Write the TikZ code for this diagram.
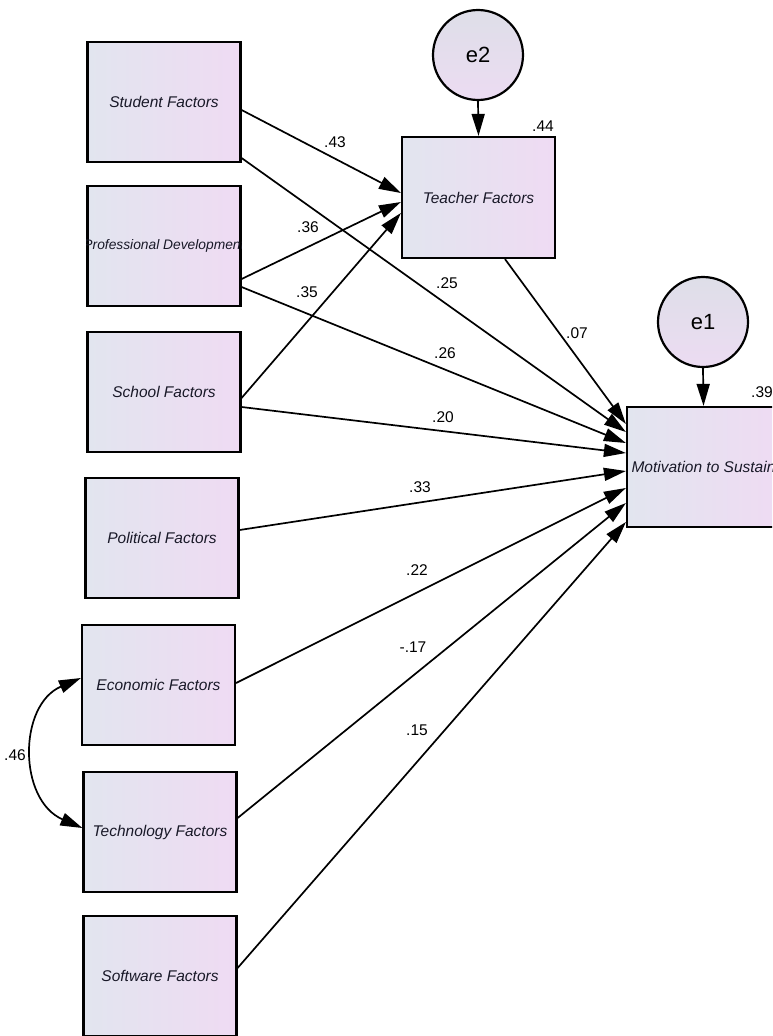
\documentclass[tikz,border=0pt]{standalone}
\usepackage{fontspec}
\setmainfont{Liberation Sans}
\usetikzlibrary{arrows.meta}
\definecolor{boxL}{RGB}{226,229,239}
\definecolor{boxR}{RGB}{239,219,243}
\definecolor{cirT}{RGB}{222,222,232}
\definecolor{cirB}{RGB}{236,220,242}
\definecolor{txt}{RGB}{25,25,40}
\tikzset{
  box/.style={draw=black, line width=2.2pt, left color=boxL, right color=boxR,
    minimum width=153pt, minimum height=120pt, inner sep=0pt, text=txt,
    font=\fontsize{15.5}{18}\selectfont\itshape},
  err/.style={circle, draw=black, line width=2.2pt, top color=cirT, bottom color=cirB,
    minimum size=90pt, inner sep=0pt, font=\fontsize{22}{26}\selectfont},
  path/.style={line width=1.7pt, -{Triangle[length=22pt,width=13pt]}},
  cov/.style={line width=1.7pt, {Triangle[length=22pt,width=13pt]}-{Triangle[length=22pt,width=13pt]}},
  lab/.style={font=\fontsize{15.5}{18}\selectfont, inner sep=0pt}
}
\begin{document}
\begin{tikzpicture}[x=1pt,y=-1pt]
\useasboundingbox (0,0) rectangle (772,1036);
\clip (0,0) rectangle (772,1036);
\fill[white] (0,0) rectangle (772,1036);
% exogenous boxes
\node[box] (stud) at (164,102) {Student Factors};
\node[box] (prof) at (164,246) {};
\begin{scope}
  \clip (prof.south west) rectangle (prof.north east);
  \node[lab, text=txt, font=\fontsize{13.8}{16}\selectfont\itshape] (proft) at (prof.center) {Professional Development};
\end{scope}
\node[box] (school) at (164,392) {School Factors};
\node[box] (pol) at (162,538) {Political Factors};
\node[box] (econ) at (158.5,685) {Economic Factors};
\node[box] (tech) at (160,832) {Technology Factors};
\node[box] (soft) at (160,976) {Software Factors};
% endogenous
\node[box, minimum height=121pt] (teach) at (478.5,197.5) {Teacher Factors};
\node[box] (mot) at (703.5,467) {Motivation to Sustain};
% errors
\node[err] (e2) at (478,55) {e2};
\node[err] (e1) at (703,322) {e1};
\draw[path] (e2.south) -- (teach.north);
\draw[path] (e1.south) -- (mot.north);
% paths to teacher
\draw[path] ([yshift=-8pt]stud.east) -- ([yshift=4.5pt]teach.west);
\draw[path] ([yshift=-33pt]prof.east) -- ([yshift=-4.5pt]teach.west);
\draw[path] ([yshift=-6pt]school.east) -- ([yshift=-15.5pt]teach.west);
% paths to motivation
\draw[path] ([xshift=26.5pt]teach.south) -- ([yshift=43pt]mot.west);
\draw[path] ([yshift=-56pt]stud.east) -- ([yshift=35pt]mot.west);
\draw[path] ([yshift=-41pt]prof.east) -- ([yshift=24pt]mot.west);
\draw[path] ([yshift=-15pt]school.east) -- ([yshift=14pt]mot.west);
\draw[path] ([yshift=8pt]pol.east) -- ([yshift=-4pt]mot.west);
\draw[path] ([yshift=2pt]econ.east) -- ([yshift=-21pt]mot.west);
\draw[path] ([yshift=14pt]tech.east) -- ([yshift=-36pt]mot.west);
\draw[path] ([yshift=8pt]soft.east) -- ([yshift=-55pt]mot.west);
% covariance
\draw[cov] ([yshift=7pt]econ.west) .. controls (18,705) and (18,800) .. ([yshift=4pt]tech.west);
% labels
\node[lab] (l43) at (335,142) {.43};
\node[lab] (l36) at (308,227) {.36};
\node[lab] (l35) at (307,292) {.35};
\node[lab] (l25) at (447,283) {.25};
\node[lab] (l07) at (577,333) {.07};
\node[lab] (l26) at (445,353) {.26};
\node[lab] (l20) at (443,417) {.20};
\node[lab] (l33) at (420,487) {.33};
\node[lab] (l22) at (417,570) {.22};
\node[lab] (l17) at (413,647) {-.17};
\node[lab] (l15) at (417,730) {.15};
\node[lab] (l46) at (15,755) {.46};
\node[lab] (l44) at (543,126) {.44};
\node[lab] (l39) at (762,392) {.39};
\end{tikzpicture}
\end{document}
